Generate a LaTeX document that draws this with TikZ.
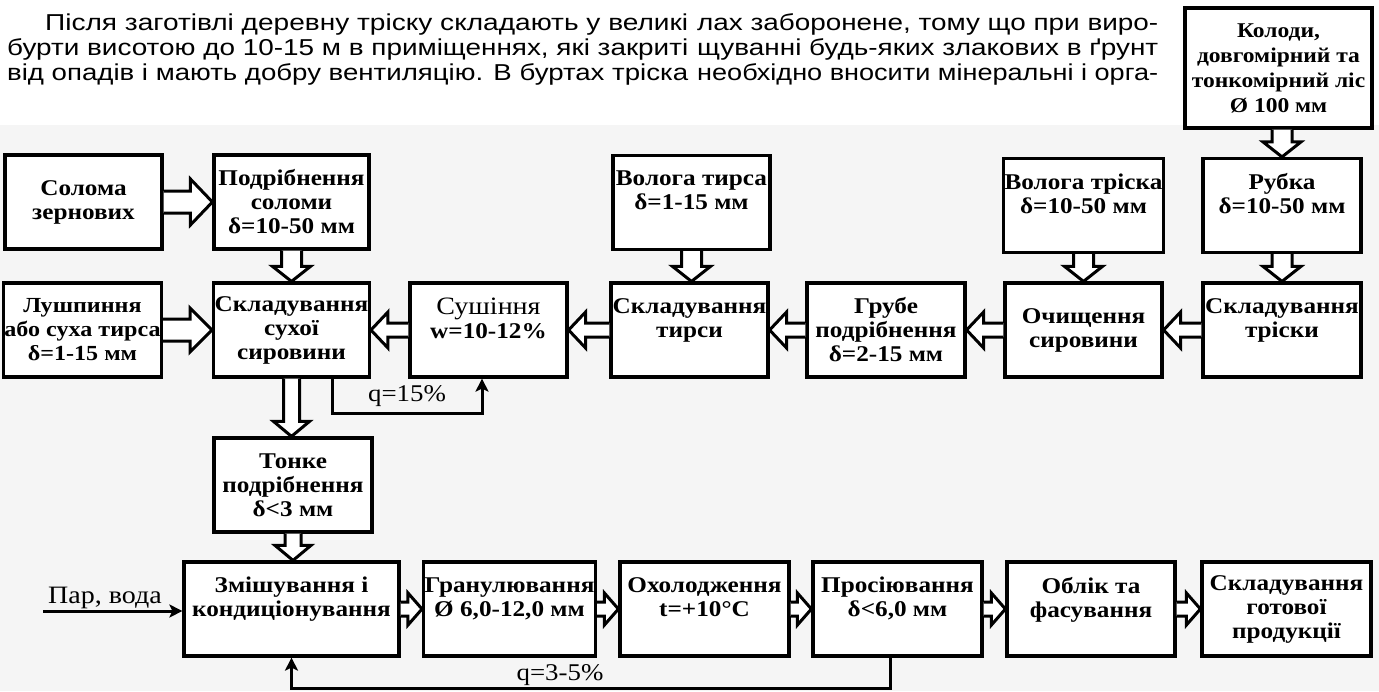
\documentclass[tikz,border=0pt]{standalone}
\usepackage{fontspec}
\usepackage{graphicx}
\setmainfont{Liberation Serif}[FakeStretch=1.12]
\newfontfamily\parafont{Liberation Sans}
\usetikzlibrary{calc,arrows.meta}
\definecolor{bggray}{RGB}{245,245,245}
\tikzset{
  blk/.style={draw, line width=3.2pt, fill=white, align=center, inner sep=1pt,
     font=\fontsize{22.5}{24}\selectfont\bfseries, minimum height=94pt},
  fat/.style args={#1/#2/#3}{line width=3pt, fill=white, line join=miter, to path={
     ($(\tikztostart)!#1!90:(\tikztotarget)$)
     -- ($(\tikztotarget)!#3!(\tikztostart)!#1!90:(\tikztotarget)$)
     -- ($(\tikztotarget)!#3!(\tikztostart)!#2!90:(\tikztotarget)$)
     -- (\tikztotarget)
     -- ($(\tikztotarget)!#3!(\tikztostart)!#2!-90:(\tikztotarget)$)
     -- ($(\tikztotarget)!#3!(\tikztostart)!#1!-90:(\tikztotarget)$)
     -- ($(\tikztostart)!#1!-90:(\tikztotarget)$)}},
  fb/.style={line width=3pt, -{Stealth[length=13pt,width=13pt,inset=3pt]}},
  lbl/.style={font=\fontsize{24}{25}\selectfont, inner sep=0pt},
  para/.style={anchor=base west, inner sep=0pt, font=\parafont\fontsize{23}{25}\selectfont},
}
\begin{document}
\begin{tikzpicture}[x=1pt,y=-1pt]
\useasboundingbox (0,0) rectangle (1379,691);
\fill[bggray] (0,125) rectangle (1379,691);

% paragraph text
\node[para] (l1) at (45,30) {\resizebox{643pt}{\height}{Після заготівлі деревну тріску складають у великі}};
\node[para] (l2) at (7,55) {\resizebox{681pt}{\height}{бурти висотою до 10-15 м в приміщеннях, які закриті}};
\node[para] (l3) at (7,80) {\resizebox{681pt}{\height}{від опадів і мають добру вентиляцію. В буртах тріска}};
\node[para] (r1) at (697,30) {\resizebox{461pt}{\height}{лах заборонене, тому що при виро-}};
\node[para] (r2) at (697,55) {\resizebox{461pt}{\height}{щуванні будь-яких злакових в ґрунт}};
\node[para] (r3) at (697,80) {\resizebox{461pt}{\height}{необхідно вносити мінеральні і орга-}};

% row 1
\node[blk, minimum width=157pt] (soloma) at (83.5,202) {Солома\\зернових};
\node[blk, minimum width=155pt] (podr) at (291.5,202) {Подрібнення\\соломи\\δ=10-50 мм};
\node[blk, minimum width=157pt] (vtyrsa) at (691.5,202.5) {Волога тирса\\δ=1-15 мм\\\mbox{}};
\node[blk, minimum width=157pt] (vtriska) at (1083.5,205.5) {Волога тріска\\δ=10-50 мм\\\mbox{}};
\node[blk, minimum width=158pt] (rubka) at (1282,205.5) {Рубка\\δ=10-50 мм\\\mbox{}};
\node[blk, minimum width=187pt, minimum height=120pt, font=\fontsize{21}{25}\selectfont\bfseries] (kolody) at (1278.5,68) {Колоди,\\довгомірний та\\тонкомірний ліс\\Ø 100 мм};

% row 2
\node[blk, minimum width=155pt, font=\fontsize{21.5}{24}\selectfont\bfseries] (lush) at (82.5,330) {Лушпиння\\або суха тирса\\δ=1-15 мм};
\node[blk, minimum width=155pt] (sklsukh) at (291.5,330) {Складування\\сухої\\сировини};
\node[blk, minimum width=157pt] (sush) at (488.5,330) {{\mdseries\fontsize{25}{24}\selectfont Сушіння}\\w=10-12\%\\\mbox{}};
\node[blk, minimum width=157pt] (skltyr) at (689.5,330) {Складування\\тирси\\\mbox{}};
\node[blk, minimum width=158pt] (grube) at (886,330) {Грубе\\подрібнення\\δ=2-15 мм};
\node[blk, minimum width=157pt] (ochysh) at (1083.5,330) {Очищення\\сировини};
\node[blk, minimum width=158pt] (skltrisk) at (1282,330) {Складування\\тріски\\\mbox{}};

% row 3
\node[blk, minimum width=158pt] (tonke) at (293,485) {Тонке\\подрібнення\\δ<3 мм};

% row 4
\node[blk, minimum width=215pt] (zmish) at (291.5,609) {Змішування і\\кондиціонування\\\mbox{}};
\node[blk, minimum width=167pt] (gran) at (509.5,609) {Гранулювання\\Ø 6,0-12,0 мм\\\mbox{}};
\node[blk, minimum width=169pt] (okhol) at (704.5,609) {Охолодження\\t=+10°C\\\mbox{}};
\node[blk, minimum width=169pt] (pros) at (897.5,609) {Просіювання\\δ<6,0 мм\\\mbox{}};
\node[blk, minimum width=168pt] (oblik) at (1091,609) {Облік та\\фасування\\\mbox{}};
\node[blk, minimum width=169pt] (sklgot) at (1286.5,609) {Складування\\готової\\продукції};

% hollow arrows
\draw[fat=11pt/23pt/22pt] (soloma.east) to (soloma.east -| podr.west);
\draw[fat=11pt/22pt/22pt] (lush.east) to (lush.east -| sklsukh.west);
\draw[fat=10pt/19pt/15pt] (podr.south) to (podr.south |- sklsukh.north);
\draw[fat=7pt/18pt/17pt] (sush.west) to (sush.west -| sklsukh.east);
\draw[fat=7pt/18pt/17pt] (skltyr.west) to (skltyr.west -| sush.east);
\draw[fat=7pt/18pt/17pt] (grube.west) to (grube.west -| skltyr.east);
\draw[fat=7pt/18pt/17pt] (ochysh.west) to (ochysh.west -| grube.east);
\draw[fat=7pt/18pt/17pt] (skltrisk.west) to (skltrisk.west -| ochysh.east);
\draw[fat=10pt/19pt/15pt] (vtyrsa.south) to (vtyrsa.south |- skltyr.north);
\draw[fat=10pt/19pt/15pt] (vtriska.south) to (vtriska.south |- ochysh.north);
\draw[fat=10pt/19pt/15pt] (rubka.south) to (rubka.south |- skltrisk.north);
\draw[fat=10pt/19pt/15pt] (rubka.north |- kolody.south) to (rubka.north);
\draw[fat=8pt/18pt/15pt] (sklsukh.south) to (sklsukh.south |- tonke.north);
\draw[fat=8pt/18pt/15pt] (tonke.south) to (tonke.south |- zmish.north);
\draw[fat=7pt/16pt/14pt] (zmish.east) to (zmish.east -| gran.west);
\draw[fat=7pt/16pt/14pt] (gran.east) to (gran.east -| okhol.west);
\draw[fat=7pt/16pt/14pt] (okhol.east) to (okhol.east -| pros.west);
\draw[fat=7pt/16pt/14pt] (pros.east) to (pros.east -| oblik.west);
\draw[fat=7pt/16pt/14pt] (oblik.east) to (oblik.east -| sklgot.west);

% thin connectors
\coordinate (par) at (43,611);
\draw[fb] (par) -- (par -| zmish.west);
\node[lbl, anchor=base west, font=\fontsize{25}{25}\selectfont] (parlbl) at (48,603) {Пар, вода};
\draw[fb] ([xshift=40.5pt]sklsukh.south) -- ++(0,35) -| ([xshift=-6.5pt]sush.south);
\node[lbl] (q15) at (407,396) {q=15\%};
\draw[fb] ([xshift=-7.5pt]pros.south) -- ++(0,31) -| (zmish.south);
\node[lbl] (q35) at (560,675) {q=3-5\%};
\end{tikzpicture}
\end{document}
